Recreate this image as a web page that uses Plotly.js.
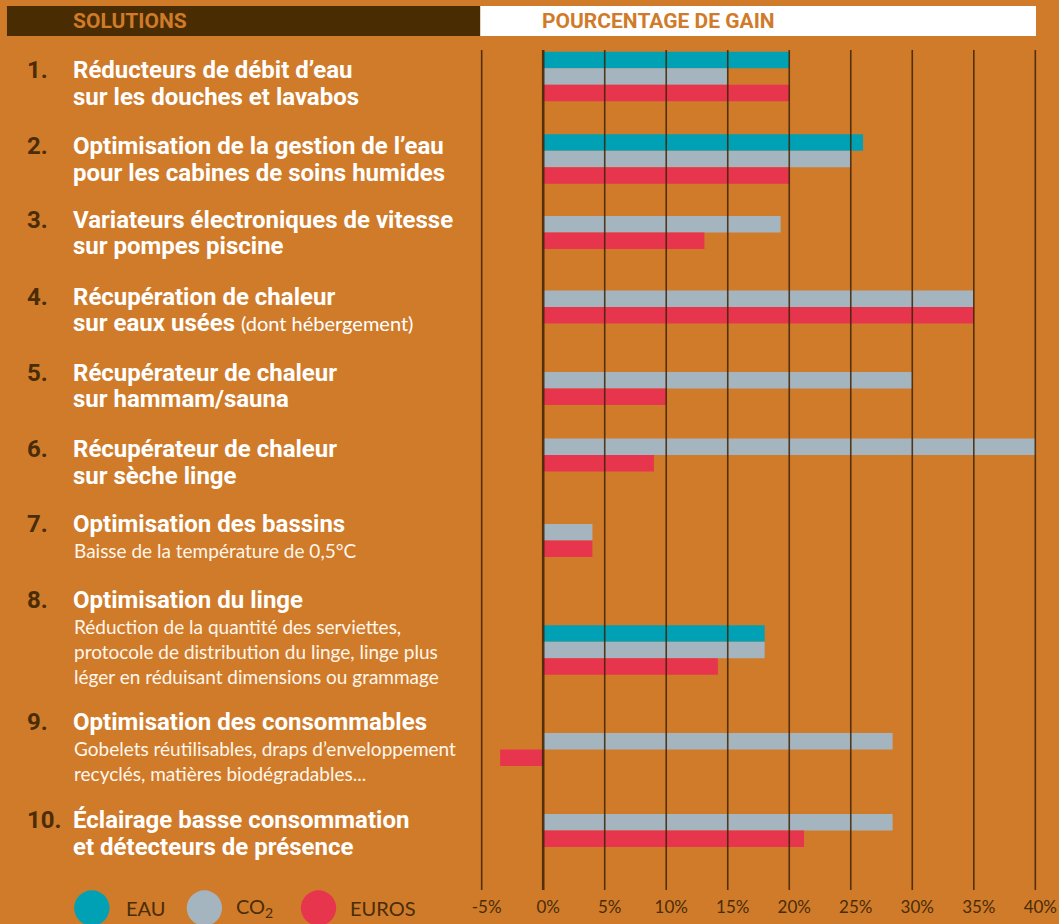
<!DOCTYPE html>
<html>
<head>
<meta charset="utf-8">
<script src="https://cdn.plot.ly/plotly-3.0.1.min.js"></script>
<style>
  html, body { margin: 0; padding: 0; background: #D07B2A; }
  #chart { width: 1059px; height: 924px; }
</style>
</head>
<body>
<div id="chart"></div>
<script>
// ---------------- DATA ----------------
const seriesNames = ['EAU', 'CO<sub>2</sub>', 'EUROS'];
const eauValues   = [20, 26, null, null, null, null, null, 18, null, null];
const co2Values   = [15, 25, 19.3, 35, 30, 40, 4, 18, 28.4, 28.4];
const eurosValues = [20, 20, 13.1, 35, 10, 9, 4, 14.2, -3.5, 21.2];

const solutionNumbers = ['1.', '2.', '3.', '4.', '5.', '6.', '7.', '8.', '9.', '10.'];
const solutionTitles = [
  ['Réducteurs de débit d’eau', 'sur les douches et lavabos'],
  ['Optimisation de la gestion de l’eau', 'pour les cabines de soins humides'],
  ['Variateurs électroniques de vitesse', 'sur pompes piscine'],
  ['Récupération de chaleur', 'sur eaux usées|(dont hébergement)'],
  ['Récupérateur de chaleur', 'sur hammam/sauna'],
  ['Récupérateur de chaleur', 'sur sèche linge'],
  ['Optimisation des bassins'],
  ['Optimisation du linge'],
  ['Optimisation des consommables'],
  ['Éclairage basse consommation', 'et détecteurs de présence']
];
const solutionNotes = [
  [], [], [], [], [], [],
  ['Baisse de la température de 0,5°C'],
  ['Réduction de la quantité des serviettes,', 'protocole de distribution du linge, linge plus', 'léger en réduisant dimensions ou grammage'],
  ['Gobelets réutilisables, draps d’enveloppement', 'recyclés, matières biodégradables...'],
  []
];
const tickValues = [-5, 0, 5, 10, 15, 20, 25, 30, 35, 40];
const tickLabels = ['-5%', '0%', '5%', '10%', '15%', '20%', '25%', '30%', '35%', '40%'];
const headerLeft = 'SOLUTIONS';
const headerRight = 'POURCENTAGE DE GAIN';

// ---------------- LAYOUT CONSTANTS (pixels) ----------------
const W_PAGE = 1059, H_PAGE = 924;
const PX_PER_UNIT = 12.32, ZERO_PX = 543;
const XMIN = -5.3, XMAX = 40.3;
const L = ZERO_PX + XMIN * PX_PER_UNIT;          // left edge of plot
const R = W_PAGE - (ZERO_PX + XMAX * PX_PER_UNIT);
const TOP = 50, BOTTOM = 890;
const PW = W_PAGE - L - R, PH = BOTTOM - TOP;
const px = x => (x - L) / PW;          // pixel -> paper x
const py = y => (BOTTOM - y) / PH;     // pixel -> paper y

const rowCenters = [76.5, 159, 232.5, 307, 388.5, 455, 540.5, 650, 749.5, 830.5];
const rowTextY   = [70, 146, 220, 297, 373, 449, 524, 600, 722, 820];
const BAR_H = 16.5;
const TITLE_STEP = 26.5, NOTE_GAP = 26.5, NOTE_STEP = 25;

const COLORS = ['#00A0B5', '#A4B5BF', '#E8354E'];
const BG = '#D07B2A', DARK = '#4A2C07';
const BOLD_FONT = 'Roboto, "Liberation Sans", sans-serif';
const LIGHT_FONT = 'Lato, Roboto, sans-serif';

// ---------------- BAR POSITIONS ----------------
const allSeries = [eauValues, co2Values, eurosValues];
const positions = allSeries.map(() => []);
for (let i = 0; i < rowCenters.length; i++) {
  const present = allSeries.map(s => s[i] !== null && s[i] !== undefined);
  const n = present.filter(Boolean).length;
  let k = 0;
  const top = rowCenters[i] - n * BAR_H / 2;
  allSeries.forEach((s, j) => {
    if (present[j]) { positions[j][i] = top + (k + 0.5) * BAR_H; k++; }
    else positions[j][i] = rowCenters[i];
  });
}

const traces = allSeries.map((vals, j) => ({
  type: 'bar',
  orientation: 'h',
  name: seriesNames[j],
  x: vals,
  y: positions[j],
  width: BAR_H,
  marker: { color: COLORS[j], line: { width: 0 } },
  hoverinfo: 'x+name',
  showlegend: false
}));

// ---------------- SHAPES ----------------
const shapes = [];
// header bars
shapes.push({ type: 'rect', xref: 'paper', yref: 'paper', x0: px(6), x1: px(480), y0: py(36), y1: py(6),
  fillcolor: '#4A2C02', line: { width: 0 }, layer: 'above' });
shapes.push({ type: 'rect', xref: 'paper', yref: 'paper', x0: px(480), x1: px(1036.5), y0: py(36), y1: py(6),
  fillcolor: '#FFFFFF', line: { width: 0 }, layer: 'above' });
// vertical grid lines, drawn above the bars
tickValues.forEach(v => {
  shapes.push({ type: 'line', xref: 'x', yref: 'paper', x0: v, x1: v, y0: 0, y1: 1,
    line: { color: 'rgba(62,34,4,0.85)', width: v === 0 ? 2.6 : 1.6 }, layer: 'above' });
});
// legend circles
const legendCircleX = [91, 203.7, 318];
const legendTextX = [123, 233, 348];
const LEG_Y = 908, LEG_R = 17.7;
legendCircleX.forEach((cx, j) => {
  shapes.push({ type: 'circle', xref: 'paper', yref: 'paper',
    x0: px(cx - LEG_R), x1: px(cx + LEG_R), y0: py(LEG_Y + LEG_R), y1: py(LEG_Y - LEG_R),
    fillcolor: COLORS[j], line: { width: 0 }, layer: 'above' });
});

// ---------------- ANNOTATIONS ----------------
const annotations = [];
function addText(text, x, y, font, extra) {
  annotations.push(Object.assign({
    text: text, xref: 'paper', yref: 'paper', x: px(x), y: py(y),
    xanchor: 'left', yanchor: 'middle', showarrow: false, font: font
  }, extra || {}));
}
addText(headerLeft, 70, 21, { family: BOLD_FONT, size: 21, color: BG, weight: 700 });
addText(headerRight, 540, 21, { family: BOLD_FONT, size: 21, color: BG, weight: 700 });

for (let i = 0; i < solutionTitles.length; i++) {
  const y0 = rowTextY[i];
  addText(solutionNumbers[i], 24, y0, { family: BOLD_FONT, size: 24, color: DARK, weight: 700 });
  solutionTitles[i].forEach((line, k) => {
    let txt = line;
    if (line.indexOf('|') >= 0) {
      const parts = line.split('|');
      txt = parts[0] + ' <span style="font-family:Lato,Roboto,sans-serif;font-weight:400;font-size:20px">' + parts[1] + '</span>';
    }
    addText(txt, 70, y0 + k * TITLE_STEP, { family: BOLD_FONT, size: 24, color: '#FFFFFF', weight: 700 });
  });
  const nT = solutionTitles[i].length;
  solutionNotes[i].forEach((line, k) => {
    addText(line, 71, y0 + (nT - 1) * TITLE_STEP + NOTE_GAP + k * NOTE_STEP,
      { family: LIGHT_FONT, size: 19, color: '#FFF6EC', weight: 400 });
  });
}
// legend labels
seriesNames.forEach((name, j) => {
  addText(name, legendTextX[j], LEG_Y, { family: LIGHT_FONT, size: 20, color: DARK, weight: 400 });
});

// ---------------- LAYOUT ----------------
const layout = {
  width: W_PAGE, height: H_PAGE,
  margin: { l: L, r: R, t: TOP, b: H_PAGE - BOTTOM, pad: 0 },
  paper_bgcolor: BG, plot_bgcolor: BG,
  barmode: 'overlay',
  showlegend: false,
  xaxis: {
    range: [XMIN, XMAX], tickvals: tickValues, ticktext: tickLabels,
    showgrid: false, zeroline: false, showline: false, ticks: '',
    ticklabelshift: 5, ticklabelstandoff: 5,
    tickfont: { family: LIGHT_FONT, size: 17, color: DARK },
    fixedrange: true
  },
  yaxis: {
    type: 'linear', range: [BOTTOM, TOP], visible: false, showgrid: false, zeroline: false,
    fixedrange: true
  },
  shapes: shapes,
  annotations: annotations,
  font: { family: LIGHT_FONT }
};

Plotly.newPlot('chart', traces, layout, { displayModeBar: false, staticPlot: true });
</script>
</body>
</html>
